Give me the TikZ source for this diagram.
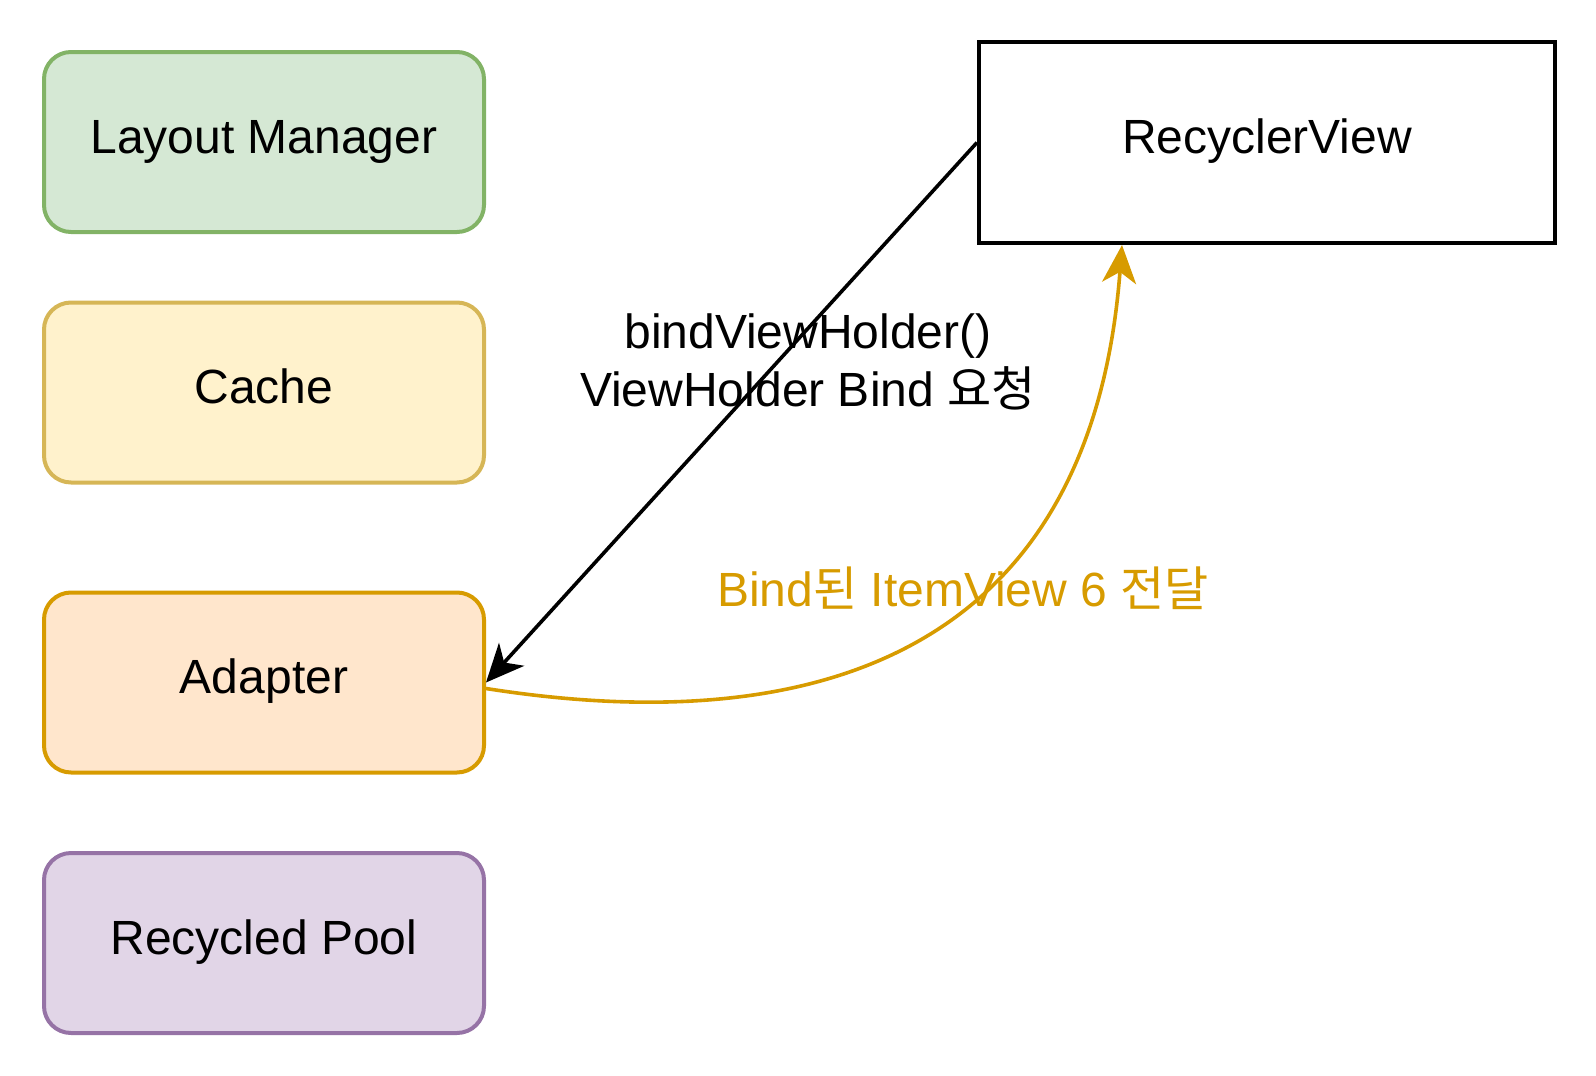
\documentclass[tikz,border=0pt]{standalone}
\usepackage{fontspec}
\setmainfont{Liberation Sans}
\newfontfamily\kr{Noto Sans CJK KR}
\usetikzlibrary{arrows.meta}
\definecolor{gfill}{HTML}{D5E8D4}\definecolor{gline}{HTML}{82B366}
\definecolor{yfill}{HTML}{FFF2CC}\definecolor{yline}{HTML}{D6B656}
\definecolor{ofill}{HTML}{FFE6CC}\definecolor{oline}{HTML}{D79B00}
\definecolor{pfill}{HTML}{E1D5E7}\definecolor{pline}{HTML}{9673A6}
\tikzset{
  basefont/.style={font=\fontsize{24}{28.8}\selectfont},
  compbox/.style={basefont, rounded corners=13.5pt, line width=2pt,
    minimum width=220pt, minimum height=90pt, inner sep=0pt,
    text height=1.2em, text depth=0.1em},
  rvbox/.style={basefont, draw=black, line width=2pt,
    minimum width=288pt, minimum height=100.5pt, inner sep=0pt,
    text height=1.2em, text depth=0.1em},
  blackarrow/.style={draw=black, line width=1.8pt,
    -{Stealth[length=19pt, width=17pt, inset=5.5pt]}},
  yarrow/.style={draw=oline, line width=1.8pt,
    -{Stealth[length=19pt, width=17pt, inset=5.5pt]}},
  edgelabel/.style={basefont, align=center, inner sep=0pt}
}
\begin{document}
\begin{tikzpicture}[x=0.5pt,y=-0.5pt]
\useasboundingbox (0,0) rectangle (1596,1076);
\node[compbox, fill=gfill, draw=gline] (lm) at (264,142) {Layout Manager};
\node[compbox, fill=yfill, draw=yline] (cache) at (264,392.5) {Cache};
\node[compbox, fill=ofill, draw=oline] (adapter) at (264,682.5) {Adapter};
\node[compbox, fill=pfill, draw=pline] (pool) at (264,943) {Recycled Pool};
\node[rvbox] (rv) at (1267,142.5) {RecyclerView};
\draw[blackarrow] (rv.west) -- (adapter.east);
\draw[yarrow] ([yshift=-3pt]adapter.east) .. controls (800,738) and (1090,665) .. ([xshift=-72.5pt]rv.south);
\node[edgelabel] (lbl1) at (808,362) {bindViewHolder()\\ViewHolder Bind {\kr 요청}};
\node[edgelabel, text=oline] (lbl2) at (963,588) {Bind{\kr 된} ItemView 6 {\kr 전달}};
\end{tikzpicture}
\end{document}
